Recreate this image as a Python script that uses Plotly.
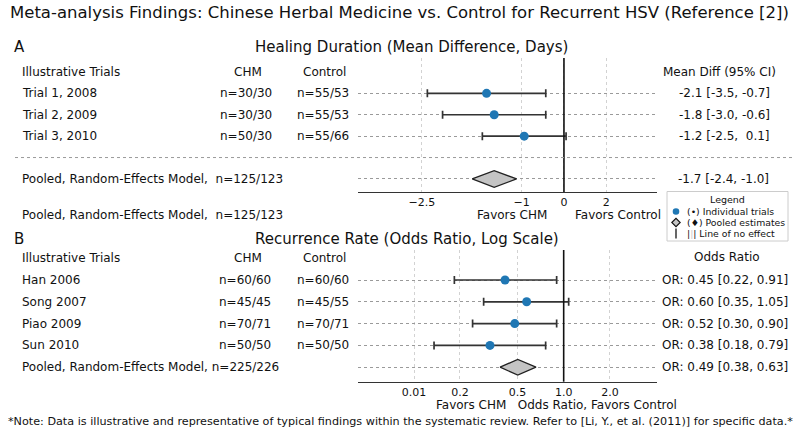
import plotly.graph_objects as go

W, H = 800, 436
FONT = "DejaVu Sans"

# ---- Panel A: healing duration (mean difference, days) ----
trials_a = ["Trial 1, 2008", "Trial 2, 2009", "Trial 3, 2010"]
chm_n_a = ["n=30/30", "n=30/30", "n=50/30"]
ctrl_n_a = ["n=55/53", "n=55/53", "n=55/66"]
md_text_a = ["-2.1 [-3.5, -0.7]", "-1.8 [-3.0, -0.6]", "-1.2 [-2.5, \u00a00.1]"]
# positions as drawn against the (oddly labelled) axis
md_a = [-1.83, -1.65, -0.94]
lo_a = [-3.23, -2.87, -1.93]
hi_a = [-0.43, -0.43, 0.05]
pooled_label_a = "Pooled, Random-Effects Model, \u00a0n=125/123"
pooled_text_a = "-1.7 [-2.4, -1.0]"
pooled_a = [-2.17, -1.65, -1.12]  # lo, estimate, hi
ticks_a = [-3.36, -1.0, 0.0, 1.0]
ticklabels_a = ["\u22122.5", "\u22121", "0", "2"]

# ---- Panel B: recurrence rate (odds ratio, log scale) ----
trials_b = ["Han 2006", "Song 2007", "Piao 2009", "Sun 2010"]
chm_n_b = ["n=60/60", "n=45/45", "n=70/71", "n=50/50"]
ctrl_n_b = ["n=60/60", "n=45/55", "n=70/71", "n=50/50"]
or_text_b = ["OR: 0.45 [0.22, 0.91]", "OR: 0.60 [0.35, 1.05]",
             "OR: 0.52 [0.30, 0.90]", "OR: 0.38 [0.18, 0.79]"]
or_b = [0.415, 0.574, 0.480, 0.331]
lo_b = [0.194, 0.301, 0.255, 0.143]
hi_b = [0.900, 1.078, 0.900, 0.763]
pooled_label_b = "Pooled, Random-Effects Model, n=225/226"
pooled_text_b = "OR: 0.49 [0.38, 0.63]"
pooled_b = [0.385, 0.502, 0.660]
ticks_b = [0.106, 0.211, 0.5, 1.0, 2.0]
ticklabels_b = ["0.01", "0.2", "0.5", "1.0", "2.0"]

BLUE = "#1f77b4"
BAR = "#333333"
DIAMOND_FILL = "#c4c4c4"


def px_x(x):
    return x / W


def px_y(y):
    return 1 - y / H


def note(text, x, y, size=12, xanchor="left", yref="paper", color="#111"):
    return dict(text=text, x=px_x(x), xref="paper",
                y=px_y(y) if yref == "paper" else y, yref=yref,
                xanchor=xanchor, yanchor="middle", showarrow=False,
                font=dict(family=FONT, size=size, color=color))


def diamond(lo, est, hi, row, h):
    return [lo, est, hi, est, lo], [row, row - h, row, row + h, row]


rows_a = list(range(len(trials_a)))
pool_row_a = 4
rows_b = list(range(len(trials_b)))
pool_row_b = 4

fig = go.Figure()

# panel A marks
fig.add_trace(go.Scatter(
    x=md_a, y=rows_a, mode="markers", xaxis="x", yaxis="y",
    marker=dict(color=BLUE, size=9),
    error_x=dict(type="data", symmetric=False,
                 array=[h - m for h, m in zip(hi_a, md_a)],
                 arrayminus=[m - l for m, l in zip(md_a, lo_a)],
                 color=BAR, thickness=1.7, width=4)))
dx, dy = diamond(*pooled_a, pool_row_a, 0.39)
fig.add_trace(go.Scatter(x=dx, y=dy, mode="lines", fill="toself",
                         fillcolor=DIAMOND_FILL, line=dict(color="#222", width=1.3),
                         xaxis="x", yaxis="y"))

# panel B marks
fig.add_trace(go.Scatter(
    x=or_b, y=rows_b, mode="markers", xaxis="x2", yaxis="y2",
    marker=dict(color=BLUE, size=9),
    error_x=dict(type="data", symmetric=False,
                 array=[h - m for h, m in zip(hi_b, or_b)],
                 arrayminus=[m - l for m, l in zip(or_b, lo_b)],
                 color=BAR, thickness=1.7, width=4)))
dx, dy = diamond(*pooled_b, pool_row_b, 0.36)
fig.add_trace(go.Scatter(x=dx, y=dy, mode="lines", fill="toself",
                         fillcolor=DIAMOND_FILL, line=dict(color="#222", width=1.3),
                         xaxis="x2", yaxis="y2"))

xdom = [px_x(358), px_x(657)]
common_x = dict(domain=xdom, showgrid=True, gridcolor="#d2d2d2", griddash="dot",
                gridwidth=1, showline=True, linecolor="#333", linewidth=1.3,
                ticks="", zeroline=False, tickfont=dict(family=FONT, size=11, color="#111"))
common_y = dict(showticklabels=False, showgrid=True, gridcolor="#9a9a9a",
                griddash="dot", gridwidth=1, zeroline=False, ticks="")

fig.update_layout(
    width=W, height=H, margin=dict(l=0, r=0, t=0, b=0),
    paper_bgcolor="white", plot_bgcolor="white", showlegend=False,
    font=dict(family=FONT, color="#111"),
    xaxis=dict(common_x, anchor="y", range=[-4.87, 2.20],
               tickvals=ticks_a, ticktext=ticklabels_a),
    yaxis=dict(common_y, anchor="x", domain=[px_y(192), px_y(58)],
               range=[4.61, -1.65], tickvals=rows_a + [pool_row_a]),
    xaxis2=dict(common_x, anchor="y2", type="log", range=[-1.340, 0.608],
                tickvals=ticks_b, ticktext=ticklabels_b),
    yaxis2=dict(common_y, anchor="x2", domain=[px_y(381.7), px_y(250)],
                range=[4.665, -1.376], tickvals=rows_b + [pool_row_b]),
)


def key_diamond(cx, cy, r):
    pts = [(cx - r, cy), (cx, cy - r), (cx + r, cy), (cx, cy + r)]
    return "M " + " L ".join(f"{px_x(a):.5f},{px_y(b):.5f}" for a, b in pts) + " Z"


shapes = [
    # lines of no effect
    dict(type="line", xref="x", yref="y domain", x0=0, x1=0, y0=0, y1=1,
         line=dict(color="#111", width=1.6)),
    dict(type="line", xref="x2", yref="y2 domain", x0=1, x1=1, y0=0, y1=1,
         line=dict(color="#111", width=1.6)),
    # separator before pooled row (panel A)
    dict(type="line", xref="paper", yref="y", x0=px_x(15), x1=px_x(795), y0=3, y1=3,
         line=dict(color="#9a9a9a", width=1, dash="dot")),
    # legend box and keys
    dict(type="rect", xref="paper", yref="paper", x0=px_x(667), x1=px_x(788),
         y0=px_y(241), y1=px_y(191.5), line=dict(color="#cccccc", width=1),
         fillcolor="white"),
    dict(type="circle", xref="paper", yref="paper", x0=px_x(672.7), x1=px_x(679.3),
         y0=px_y(214.8), y1=px_y(208.2), fillcolor=BLUE, line=dict(width=0)),
    dict(type="path", xref="paper", yref="paper", path=key_diamond(676, 222.5, 4.2),
         fillcolor=DIAMOND_FILL, line=dict(color="#111", width=1.1)),
    dict(type="line", xref="paper", yref="paper", x0=px_x(676), x1=px_x(676),
         y0=px_y(238.5), y1=px_y(228.5), line=dict(color="#000", width=1.2)),
]
fig.update_layout(shapes=shapes)

ann = [
    note("Meta-analysis Findings: Chinese Herbal Medicine vs. Control for Recurrent HSV (Reference [2])",
         399, 13, size=16.5, xanchor="center"),
    note("A", 12, 47, size=15),
    note("Healing Duration (Mean Difference, Days)", 411, 47, size=15, xanchor="center"),
    note("Illustrative Trials", 20, 72),
    note("CHM", 248, 72, xanchor="center"),
    note("Control", 324, 72, xanchor="center"),
    note("Mean Diff (95% CI)", 719, 72, xanchor="center"),
    note(pooled_label_a, 20, 215),
    note("Favors CHM", 512, 215, xanchor="center"),
    note("Favors Control", 618, 215, xanchor="center"),
    note("B", 12, 239, size=15),
    note("Recurrence Rate (Odds Ratio, Log Scale)", 407, 239, size=15, xanchor="center"),
    note("Illustrative Trials", 20, 258),
    note("CHM", 248, 258, xanchor="center"),
    note("Control", 324, 258, xanchor="center"),
    note("Odds Ratio", 727, 257, xanchor="center"),
    note("Favors CHM \u00a0\u00a0Odds Ratio, Favors Control", 556, 405, xanchor="center"),
    note("*Note: Data is illustrative and representative of typical findings within the systematic review. "
         "Refer to [Li, Y., et al. (2011)] for specific data.*", 400, 421, size=11.2, xanchor="center"),
    # legend text
    note("Legend", 727, 199, size=9.5, xanchor="center"),
    note("(\u2022) Individual trials", 685, 211.5, size=9.3),
    note("(\u2666) Pooled estimates", 685, 222.5, size=9.3),
    note("|<span style='color:#c8c8c8'>|</span>| Line of no effect", 685, 233.5, size=9.3),
]

for r, t, c, k, v in zip(rows_a, trials_a, chm_n_a, ctrl_n_a, md_text_a):
    ann.append(note(t, 20, r, yref="y"))
    ann.append(note(c, 246, r, yref="y", xanchor="center"))
    ann.append(note(k, 323, r, yref="y", xanchor="center"))
    ann.append(note(v, 724, r, yref="y", xanchor="center"))
ann.append(note(pooled_label_a, 20, pool_row_a, yref="y"))
ann.append(note(pooled_text_a, 723, pool_row_a, yref="y", xanchor="center"))

for r, t, c, k, v in zip(rows_b, trials_b, chm_n_b, ctrl_n_b, or_text_b):
    ann.append(note(t, 20, r, yref="y2"))
    ann.append(note(c, 245, r, yref="y2", xanchor="center"))
    ann.append(note(k, 323, r, yref="y2", xanchor="center"))
    ann.append(note(v, 725, r, yref="y2", xanchor="center"))
ann.append(note(pooled_label_b, 20, pool_row_b, yref="y2"))
ann.append(note(pooled_text_b, 725, pool_row_b, yref="y2", xanchor="center"))

fig.update_layout(annotations=ann)

# the page body has a default 8px margin; drop it so the figure fills the window
fig.write_html("out.html", config={"displayModeBar": False},
               post_script="document.body.style.margin='0';")
